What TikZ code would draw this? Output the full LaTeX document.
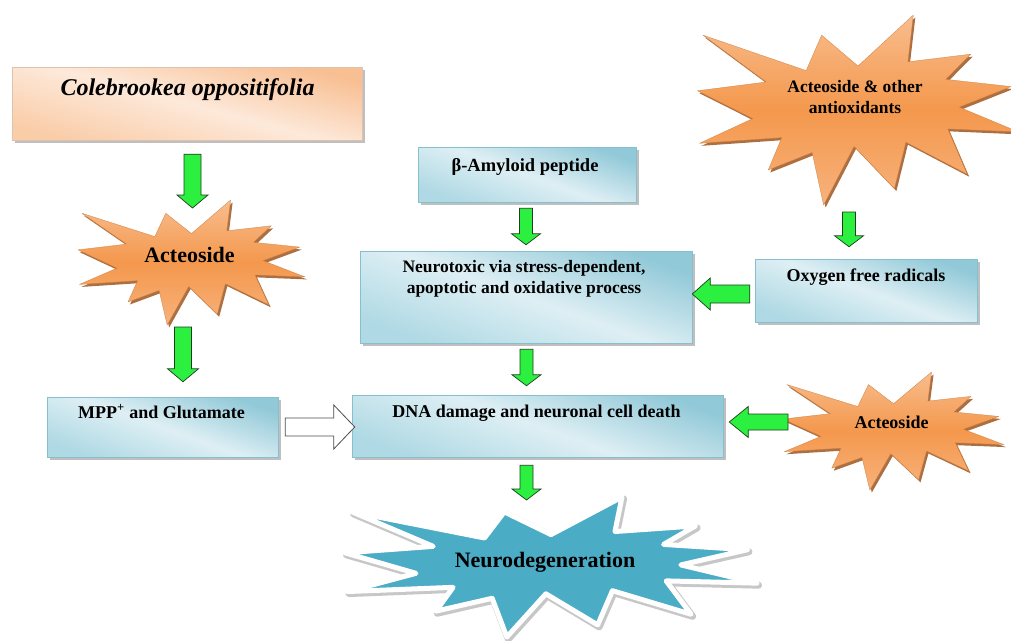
\documentclass[tikz,border=0pt]{standalone}
\usepackage{fontspec}
\setmainfont{Liberation Serif}
\usetikzlibrary{calc,shadows}
\definecolor{agreen}{HTML}{2BF03F}
\definecolor{aedge}{HTML}{1F3F1F}
\definecolor{bluetop}{HTML}{92C9D8}
\definecolor{bluemid}{HTML}{DEEFF4}
\definecolor{bluebot}{HTML}{AFD9E4}
\definecolor{blueedge}{HTML}{86BFCE}
\definecolor{peachtop}{HTML}{F8BF93}
\definecolor{peachmid}{HTML}{FDE9DA}
\definecolor{peachbot}{HTML}{FACDA9}
\definecolor{orgtop}{HTML}{F8BD8E}
\definecolor{orgmid}{HTML}{F4984D}
\definecolor{orgbot}{HTML}{F7B27C}
\definecolor{orgshadow}{HTML}{9E5620}
\definecolor{neurblue}{HTML}{4BACC6}

\newcommand\sealpts{(0.5000,0.2685) -- (0.6723,0) -- (0.6553,0.2465) -- (0.8509,0.2063) -- (0.7732,0.3387) -- (0.9767,0.3767) -- (0.8151,0.4850) -- (1,0.6153) -- (0.7795,0.5992) -- (0.8400,0.8377) -- (0.6491,0.6693) -- (0.6133,0.9137) -- (0.4876,0.6914) -- (0.3928,1) -- (0.3572,0.7235) -- (0.2205,0.8156) -- (0.2624,0.6452) -- (0.00625,0.6753) -- (0.1723,0.5451) -- (0,0.3988) -- (0.2142,0.3526) -- (0.01713,0.1063) -- (0.3385,0.2926) -- (0.3867,0.1063) -- cycle}

\newcommand\drawseal[7]{%
  \begin{scope}[shift={(#2,#3)}, x=#4pt, y=-#5pt]
    \path[#7] \sealpts;
  \end{scope}
  \begin{scope}[shift={(#2,#3)}, x=#4pt, y=-#5pt]
    \path[#6] \sealpts;
  \end{scope}
  \node[anchorbox, minimum width=#4pt, minimum height=#5pt] (#1) at ({#2+#4/2},{#3+#5/2}) {};
}

\tikzset{
  anchorbox/.style={shape=rectangle, inner sep=0pt, outer sep=0pt, draw=none},
  bluebox/.style={shape=rectangle, inner sep=0pt, draw=blueedge, line width=0.5pt,
    top color=bluetop, bottom color=bluebot, middle color=bluemid, shading angle=-20,
    drop shadow={shadow xshift=2.5pt, shadow yshift=-2.5pt, fill=black!45, opacity=0.55}},
  peachbox/.style={shape=rectangle, inner sep=0pt, draw=peachtop!80!black!60, line width=0.4pt,
    top color=peachtop, bottom color=peachbot, middle color=peachmid, shading angle=-15,
    drop shadow={shadow xshift=2.5pt, shadow yshift=-2.5pt, fill=black!45, opacity=0.55}},
  orgstar/.style={top color=orgtop, bottom color=orgbot, middle color=orgmid, draw=orgmid!85!black, line width=0.3pt, line join=round},
  orgshade/.style={fill=orgshadow, opacity=0.85, xshift=2pt, yshift=-2.5pt},
  neurstar/.style={fill=neurblue, draw=white, line width=5pt, line join=round},
  neurshade/.style={draw=black!22, fill=black!22, line width=7pt, line join=round, xshift=1.5pt, yshift=-2pt},
  fat/.style n args={3}{to path={let \p1=(\tikztostart), \p2=(\tikztotarget), \n1={atan2(\y2-\y1,\x2-\x1)} in
    ($(\p1)+({\n1+90}:#1pt)$) -- ($(\p2)+({\n1+180}:#3pt)+({\n1+90}:#1pt)$) -- ($(\p2)+({\n1+180}:#3pt)+({\n1+90}:#2pt)$) -- (\p2) -- ($(\p2)+({\n1+180}:#3pt)+({\n1-90}:#2pt)$) -- ($(\p2)+({\n1+180}:#3pt)+({\n1-90}:#1pt)$) -- ($(\p1)+({\n1-90}:#1pt)$) -- cycle}},
  garrow/.style={fill=agreen, draw=aedge, line width=0.7pt, line join=miter},
  harrow/.style={fill=white, draw=black!70, line width=0.8pt, line join=miter},
  txt/.style={inner sep=0pt, anchor=base, font=\bfseries\fontsize{18}{21}\selectfont},
}

\begin{document}
\begin{tikzpicture}[x=1pt, y=-1pt]
\useasboundingbox (0,0) rectangle (1011,640);
\fill[white] (0,0) rectangle (1011,640);
\clip (0,0) rectangle (1011,640);

% boxes
\node[peachbox, minimum width=350pt, minimum height=73pt] (cole) at (187,103.5) {};
\node[bluebox, minimum width=218pt, minimum height=55pt] (amy) at (527,174.5) {};
\node[bluebox, minimum width=332pt, minimum height=92pt] (neuro) at (526,297) {};
\node[bluebox, minimum width=222pt, minimum height=63pt] (oxy) at (866,290.5) {};
\node[bluebox, minimum width=231pt, minimum height=60pt] (mpp) at (162.5,427) {};
\node[bluebox, minimum width=371pt, minimum height=62pt] (dna) at (537.5,426) {};

% stars
\drawseal{act1}{78}{200}{227}{125}{orgstar}{orgshade}
\drawseal{staru}{697.5}{15}{321}{190}{orgstar}{orgshade}
\drawseal{act2}{783}{372}{221}{118}{orgstar}{orgshade}
\drawseal{ndeg}{345}{497}{412}{140}{neurstar}{neurshade}

% arrows
\draw[garrow, fat={8.5}{15.5}{13}] ($(cole.south)+(5.5,14)$) to ($(act1.north)+(1,8)$);
\draw[garrow, fat={8.5}{15.5}{13}] ($(act1.south)+(-8.5,2)$) to ($(mpp.north)+(20.5,-15)$);
\draw[garrow, fat={6.5}{14.5}{11}] ($(amy.south)+(-1,6)$) to ($(neuro.north)+(0,-6)$);
\draw[garrow, fat={6.5}{14.5}{11}] ($(neuro.south)+(0.5,6)$) to ($(dna.north)+(-11,-9)$);
\draw[garrow, fat={6.5}{14.5}{11}] ($(dna.south)+(-11,8)$) to ($(ndeg.north)+(-24.5,3)$);
\draw[garrow, fat={6.5}{14.5}{11}] ($(staru.south)+(-9,7)$) to ($(oxy.north)+(-17,-12)$);
\draw[garrow, fat={9}{16}{18}] ($(oxy.west)+(-5,3.5)$) to ($(neuro.east)+(0,-3)$);
\draw[garrow, fat={8}{15.5}{19}] ($(act2.west)+(5,-9)$) to ($(dna.east)+(6,-4)$);
\draw[harrow, fat={9}{22}{21}] ($(mpp.east)+(7,0)$) to ($(dna.west)+(3,1)$);

% texts
\node[txt, font=\bfseries\itshape\fontsize{24}{27}\selectfont] (coletxt) at (187.5,95) {Colebrookea oppositifolia};
\node[txt, font=\bfseries\fontsize{22}{25}\selectfont] (act1txt) at (189.5,262) {Acteoside};
\node[txt, font=\bfseries\fontsize{17.5}{21}\selectfont] (starutxt1) at (855,92) {Acteoside \& other};
\node[txt, font=\bfseries\fontsize{17.5}{21}\selectfont] (starutxt2) at (855,113) {antioxidants};
\node[txt] (act2txt) at (891.5,428) {Acteoside};
\node[txt, font=\bfseries\fontsize{22}{26}\selectfont] (ndegtxt) at (545,567) {Neurodegeneration};
\node[txt, font=\bfseries\fontsize{18.5}{22}\selectfont] (amytxt) at (525,171) {β-Amyloid peptide};
\node[txt, font=\bfseries\fontsize{17.5}{21}\selectfont] (neurotxt1) at (524,272) {Neurotoxic via stress-dependent,};
\node[txt, font=\bfseries\fontsize{17.5}{21}\selectfont] (neurotxt2) at (524,293) {apoptotic and oxidative process};
\node[txt] (oxytxt) at (866,281) {Oxygen free radicals};
\node[txt] (mpptxt) at (161.5,418) {MPP\textsuperscript{+} and Glutamate};
\node[txt] (dnatxt) at (536.5,417) {DNA damage and neuronal cell death};
\end{tikzpicture}
\end{document}
